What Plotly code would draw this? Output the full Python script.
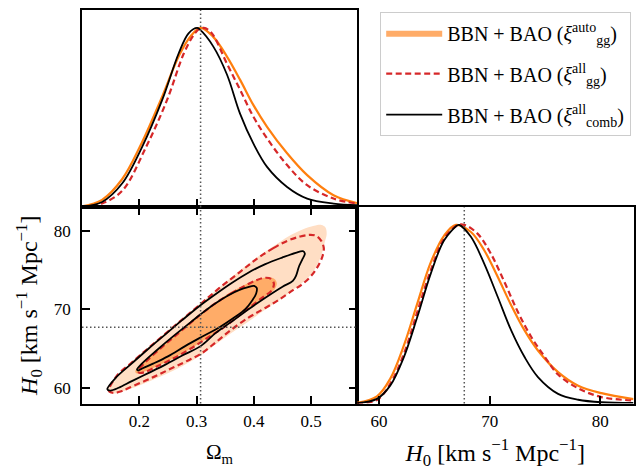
import plotly.graph_objects as go

# ---------------- data ----------------
OM_REF = 0.307   # fiducial Omega_m (dotted lines)
H0_REF = 67.7    # fiducial H0 (dotted lines)

LABELS = [
    "BBN + BAO (<i>ξ</i><sup>auto</sup><sub>gg</sub>)",
    "BBN + BAO (<i>ξ</i><sup>all</sup><sub>gg</sub>)",
    "BBN + BAO (<i>ξ</i><sup>all</sup><sub>comb</sub>)",
]

# 1D marginal of Omega_m (normalised to peak = 1)
om_auto_x = [0.10, 0.135, 0.170, 0.201, 0.2375, 0.27, 0.29, 0.307, 0.329, 0.353, 0.376, 0.399, 0.423, 0.458, 0.493, 0.539, 0.58]
om_auto_p = [0.003, 0.04, 0.155, 0.336, 0.598, 0.85, 0.955, 1.0, 0.95, 0.84, 0.71, 0.57, 0.448, 0.30, 0.178, 0.066, 0.022]
om_gg_x = [0.10, 0.135, 0.17, 0.212, 0.2485, 0.278, 0.295, 0.305, 0.3125, 0.32, 0.329, 0.353, 0.376, 0.399, 0.423, 0.458, 0.493, 0.539, 0.58]
om_gg_p = [0.001, 0.02, 0.09, 0.336, 0.598, 0.86, 0.96, 0.995, 1.0, 0.99, 0.96, 0.80, 0.654, 0.505, 0.383, 0.234, 0.122, 0.047, 0.019]
om_comb_x = [0.10, 0.135, 0.170, 0.205, 0.240, 0.269, 0.286, 0.301, 0.306, 0.329, 0.353, 0.376, 0.399, 0.423, 0.458, 0.493, 0.539, 0.58]
om_comb_p = [0.002, 0.028, 0.131, 0.336, 0.598, 0.86, 0.97, 1.0, 0.99, 0.897, 0.74, 0.52, 0.355, 0.224, 0.112, 0.047, 0.019, 0.01]

# 1D marginal of H0 (normalised to peak = 1)
h0_auto_x = [58, 59.8, 61.0, 62.24, 63.45, 64.67, 65.88, 66.94, 68.3, 69.5, 70.73, 71.94, 73.15, 74.36, 76.18, 78.0, 80.1, 83.0]
h0_auto_p = [0.004, 0.04, 0.138, 0.325, 0.559, 0.79, 0.94, 1.0, 0.96, 0.858, 0.708, 0.55, 0.409, 0.297, 0.176, 0.10, 0.058, 0.024]
h0_gg_x = [58, 59.8, 61.0, 62.24, 63.45, 64.67, 65.88, 67.09, 67.7, 68.9, 70.1, 71.33, 72.55, 73.76, 74.97, 76.18, 78.0, 80.1, 83.0]
h0_gg_p = [0.002, 0.02, 0.11, 0.278, 0.512, 0.746, 0.923, 0.998, 1.0, 0.951, 0.839, 0.68, 0.512, 0.372, 0.262, 0.162, 0.085, 0.036, 0.017]
h0_comb_x = [58, 59.8, 61.0, 62.24, 63.45, 64.67, 65.88, 67.09, 67.24, 68.3, 69.5, 70.73, 71.94, 73.15, 74.36, 76.18, 78.0, 80.1, 83.0]
h0_comb_p = [0.002, 0.026, 0.10, 0.26, 0.484, 0.727, 0.914, 0.998, 1.0, 0.933, 0.783, 0.596, 0.409, 0.26, 0.148, 0.054, 0.021, 0.007, 0.003]

# 2D contours (Omega_m, H0) : 68% and 95% regions
auto95_om = [0.143, 0.150, 0.165, 0.19, 0.22, 0.25, 0.28, 0.31, 0.34, 0.376, 0.40, 0.434, 0.46, 0.485, 0.505, 0.518, 0.525, 0.527, 0.524, 0.521, 0.516, 0.504, 0.49, 0.473,
             0.45, 0.42, 0.39, 0.36, 0.333, 0.307, 0.275, 0.245, 0.215, 0.185, 0.16, 0.148]
auto95_h0 = [59.9, 60.6, 61.7, 63.55, 65.45, 67.3, 69.15, 70.95, 72.8, 74.95, 76.3, 78.0, 79.25, 80.15, 80.6, 80.72, 80.4, 79.5, 78.6, 77.7, 76.5, 74.8, 73.7, 72.7,
             71.45, 69.95, 68.4, 66.95, 65.5, 64.1, 62.75, 61.7, 60.75, 59.9, 59.3, 59.35]
auto68_om = [0.193, 0.205, 0.235, 0.265, 0.295, 0.325, 0.355, 0.385, 0.41, 0.426, 0.436, 0.44, 0.436,
             0.425, 0.40, 0.376, 0.35, 0.32, 0.29, 0.26, 0.23, 0.205, 0.195]
auto68_h0 = [62.1, 63.2, 65.1, 66.95, 68.75, 70.45, 71.95, 73.15, 73.85, 74.05, 73.85, 73.3, 72.5,
             71.9, 70.6, 69.3, 67.8, 66.35, 65.0, 63.75, 62.7, 61.95, 61.85]
gg95_om = [0.147, 0.16, 0.19, 0.22, 0.25, 0.28, 0.31, 0.34, 0.376, 0.405, 0.434, 0.46, 0.481, 0.498, 0.508, 0.517, 0.522, 0.52, 0.515, 0.507, 0.497, 0.483, 0.469,
           0.45, 0.434, 0.41, 0.39, 0.36, 0.333, 0.307, 0.28, 0.25, 0.22, 0.19, 0.17, 0.155]
gg95_h0 = [59.6, 61.45, 63.4, 65.3, 67.15, 69.0, 70.85, 72.7, 74.75, 76.4, 77.77, 78.75, 79.25, 79.45, 79.35, 78.75, 77.8, 76.8, 75.9, 74.9, 74.0, 73.1, 72.45,
           71.5, 70.75, 69.75, 68.9, 67.35, 65.75, 64.3, 63.3, 62.25, 61.2, 60.25, 59.6, 59.35]
gg68_om = [0.198, 0.21, 0.24, 0.27, 0.30, 0.33, 0.36, 0.385, 0.405, 0.42, 0.43, 0.435, 0.43,
           0.417, 0.394, 0.376, 0.35, 0.32, 0.29, 0.26, 0.23, 0.21, 0.20]
gg68_h0 = [62.1, 63.2, 65.2, 67.05, 68.9, 70.6, 72.0, 73.0, 73.7, 74.0, 73.85, 73.2, 72.3,
           71.6, 70.3, 69.3, 67.8, 66.4, 65.0, 63.75, 62.7, 62.0, 61.9]
comb95_om = [0.1443, 0.158, 0.187, 0.2165, 0.2456, 0.2747, 0.3068, 0.333, 0.362, 0.391, 0.42, 0.4495, 0.473, 0.4856, 0.489, 0.484, 0.4786, 0.474, 0.468,
             0.45, 0.42, 0.39, 0.362, 0.333, 0.307, 0.275, 0.2456, 0.2165, 0.187, 0.164, 0.1495]
comb95_h0 = [59.82, 61.2, 63.1, 65.0, 66.8, 68.6, 70.5, 71.9, 73.36, 74.67, 75.73, 76.57, 77.17, 77.38, 77.08, 76.24, 75.4, 74.33, 73.6,
             72.85, 71.45, 69.95, 68.45, 66.95, 65.3, 64.1, 62.95, 61.9, 60.85, 60.0, 59.65]
comb68_om = [0.196, 0.205, 0.23, 0.26, 0.29, 0.307, 0.33, 0.355, 0.375, 0.39, 0.40, 0.405, 0.404,
             0.398, 0.385, 0.365, 0.34, 0.307, 0.28, 0.25, 0.225, 0.205, 0.198]
comb68_h0 = [62.3, 63.1, 64.75, 66.6, 68.35, 69.35, 70.6, 71.75, 72.45, 72.8, 72.95, 72.7, 72.0,
             71.2, 70.0, 68.9, 67.7, 66.4, 65.3, 64.0, 63.1, 62.45, 62.2]

# ---------------- styles ----------------
ORANGE = "#ff7f0e"
ORANGE_68 = "rgb(255,172,104)"
ORANGE_95 = "rgb(255,222,196)"
RED = "#d62728"
BLACK = "black"
DOT_COLOR = "#555555"
FONT = "Liberation Serif"
SMOOTH = 1.0
DASH = "6px,3.5px"


def closed(xs, ys):
    k = len(xs) // 4
    xs2 = xs[k:] + xs[:k]
    ys2 = ys[k:] + ys[:k]
    return xs2 + [xs2[0]], ys2 + [ys2[0]]


fig = go.Figure()

# ---- 2D panel (bottom-left) ----
cx, cy = closed(auto95_om, auto95_h0)
fig.add_trace(go.Scatter(x=cx, y=cy, xaxis="x2", yaxis="y2", mode="lines",
                         line=dict(width=0, shape="spline", smoothing=SMOOTH, color=ORANGE_95),
                         fill="toself", fillcolor=ORANGE_95, showlegend=False, hoverinfo="skip"))
cx, cy = closed(auto68_om, auto68_h0)
fig.add_trace(go.Scatter(x=cx, y=cy, xaxis="x2", yaxis="y2", mode="lines",
                         line=dict(width=0, shape="spline", smoothing=SMOOTH, color=ORANGE_68),
                         fill="toself", fillcolor=ORANGE_68, name=LABELS[0],
                         legendgroup="a", legendrank=1, showlegend=True, hoverinfo="skip"))
for xs, ys in [(gg95_om, gg95_h0), (gg68_om, gg68_h0)]:
    cx, cy = closed(xs, ys)
    fig.add_trace(go.Scatter(x=cx, y=cy, xaxis="x2", yaxis="y2", mode="lines",
                             line=dict(width=2.2, color=RED, dash=DASH, shape="spline", smoothing=SMOOTH),
                             showlegend=False, hoverinfo="skip"))
for xs, ys in [(comb95_om, comb95_h0), (comb68_om, comb68_h0)]:
    cx, cy = closed(xs, ys)
    fig.add_trace(go.Scatter(x=cx, y=cy, xaxis="x2", yaxis="y2", mode="lines",
                             line=dict(width=1.8, color=BLACK, shape="spline", smoothing=SMOOTH),
                             showlegend=False, hoverinfo="skip"))

# ---- 1D panels ----
fig.add_trace(go.Scatter(x=om_auto_x, y=om_auto_p, xaxis="x", yaxis="y", mode="lines",
                         line=dict(color=ORANGE, width=2.2, shape="spline", smoothing=SMOOTH),
                         showlegend=False, hoverinfo="skip"))
fig.add_trace(go.Scatter(x=om_gg_x, y=om_gg_p, xaxis="x", yaxis="y", mode="lines",
                         line=dict(color=RED, width=2.2, dash=DASH, shape="spline", smoothing=SMOOTH),
                         name=LABELS[1], legendgroup="b", legendrank=2, showlegend=True, hoverinfo="skip"))
fig.add_trace(go.Scatter(x=om_comb_x, y=om_comb_p, xaxis="x", yaxis="y", mode="lines",
                         line=dict(color=BLACK, width=1.8, shape="spline", smoothing=SMOOTH),
                         name=LABELS[2], legendgroup="c", legendrank=3, showlegend=True, hoverinfo="skip"))

fig.add_trace(go.Scatter(x=h0_auto_x, y=h0_auto_p, xaxis="x3", yaxis="y3", mode="lines",
                         line=dict(color=ORANGE, width=2.2, shape="spline", smoothing=SMOOTH),
                         showlegend=False, hoverinfo="skip"))
fig.add_trace(go.Scatter(x=h0_gg_x, y=h0_gg_p, xaxis="x3", yaxis="y3", mode="lines",
                         line=dict(color=RED, width=2.2, dash=DASH, shape="spline", smoothing=SMOOTH),
                         showlegend=False, hoverinfo="skip"))
fig.add_trace(go.Scatter(x=h0_comb_x, y=h0_comb_p, xaxis="x3", yaxis="y3", mode="lines",
                         line=dict(color=BLACK, width=1.8, shape="spline", smoothing=SMOOTH),
                         showlegend=False, hoverinfo="skip"))

# ---- fiducial dotted lines ----
dot = dict(color=DOT_COLOR, width=1.5, dash="1.5px,2.5px")
fig.add_shape(type="line", xref="x", yref="y domain", x0=OM_REF, x1=OM_REF, y0=0, y1=1, line=dot, layer="above")
fig.add_shape(type="line", xref="x2", yref="y2 domain", x0=OM_REF, x1=OM_REF, y0=0, y1=1, line=dot, layer="above")
fig.add_shape(type="line", xref="x2 domain", yref="y2", x0=0, x1=1, y0=H0_REF, y1=H0_REF, line=dot, layer="above")
fig.add_shape(type="line", xref="x3", yref="y3 domain", x0=H0_REF, x1=H0_REF, y0=0, y1=1, line=dot, layer="above")

# ---------------- layout ----------------
XL = [82 / 644, 357 / 644]
XR = [357 / 644, 633.5 / 644]
YT = [1 - 207 / 472, 1 - 10 / 472]
YB = [1 - 403.5 / 472, 1 - 207 / 472]

common = dict(showgrid=False, zeroline=False, showline=True, linecolor="black", linewidth=1.6,
              ticks="inside", ticklen=8, tickwidth=1.5, tickcolor="black",
              tickfont=dict(family=FONT, size=17, color="black"))

H0_TITLE = "<i>H</i><sub>0</sub> [km s<sup>−1</sup> Mpc<sup>−1</sup>]"

fig.update_layout(
    width=644, height=472, autosize=False,
    margin=dict(l=0, r=0, t=0, b=0),
    paper_bgcolor="white", plot_bgcolor="white",
    font=dict(family=FONT, color="black"),
    xaxis=dict(domain=XL, anchor="y", range=[0.1, 0.58], tickvals=[0.2, 0.3, 0.4, 0.5],
               showticklabels=False, mirror=True, **common),
    yaxis=dict(domain=YT, anchor="x", range=[0, 1.1], showticklabels=False,
               **{**common, "ticks": ""}, mirror=True),
    xaxis2=dict(domain=XL, anchor="y2", range=[0.1, 0.58], tickvals=[0.2, 0.3, 0.4, 0.5],
                ticktext=["0.2", "0.3", "0.4", "0.5"], mirror="ticks", ticklabelstandoff=1,
                title=dict(text="Ω<sub>m</sub>", font=dict(family=FONT, size=21), standoff=15), **common),
    yaxis2=dict(domain=YB, anchor="x2", range=[58, 83], tickvals=[60, 70, 80], mirror="ticks", ticklabelstandoff=6,
                title=dict(text=H0_TITLE, font=dict(family=FONT, size=24), standoff=9), **common),
    xaxis3=dict(domain=XR, anchor="y3", range=[58, 83], tickvals=[60, 70, 80], mirror=True, ticklabelstandoff=1,
                title=dict(text=H0_TITLE, font=dict(family=FONT, size=24), standoff=14), **common),
    yaxis3=dict(domain=YB, anchor="x3", range=[0, 1.1], showticklabels=False,
                **{**common, "ticks": ""}, mirror=True),
    legend=dict(x=380 / 644, y=1 - 12 / 472, xanchor="left", yanchor="top",
                bgcolor="white", bordercolor="#cccccc", borderwidth=1.2,
                font=dict(family=FONT, size=20, color="black"),
                traceorder="grouped", tracegroupgap=12, itemwidth=56),
)

fig.write_html("out.html", config={"displayModeBar": False},
               post_script="document.body.style.margin='0';document.body.style.padding='0';")
